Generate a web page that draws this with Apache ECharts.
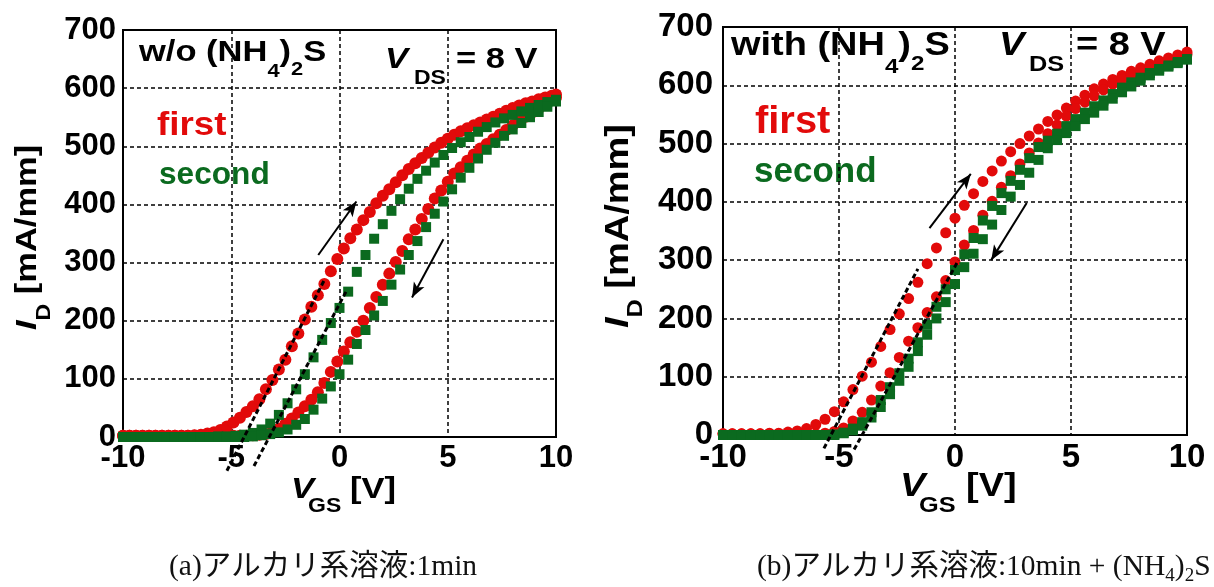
<!DOCTYPE html>
<html>
<head>
<meta charset="utf-8">
<script src="https://cdn.jsdelivr.net/npm/echarts@6/dist/echarts.min.js"></script>
<style>
html,body{margin:0;padding:0;background:#fff;}
#c{width:1214px;height:587px;}
</style>
</head>
<body>
<div id="c"></div>
<script>
// ---------- data ----------
// V_GS sample points (left chart, "first" sweep)
const vgsFine = [-10,-9.7,-9.4,-9.1,-8.8,-8.5,-8.2,-7.9,-7.6,-7.3,-7,-6.7,-6.4,-6.1,-5.8,-5.5,-5.2,-4.9,-4.6,-4.3,-4,-3.7,-3.4,-3.1,-2.8,-2.5,-2.2,-1.9,-1.6,-1.3,-1,-0.7,-0.4,-0.1,0.2,0.5,0.8,1.1,1.4,1.7,2,2.3,2.6,2.9,3.2,3.5,3.8,4.1,4.4,4.7,5,5.3,5.6,5.9,6.2,6.5,6.8,7.1,7.4,7.7,8,8.3,8.6,8.9,9.2,9.5,9.8,10];
// V_GS sample points (other sweeps)
const vgsCoarse = [-10,-9.6,-9.2,-8.8,-8.4,-8,-7.6,-7.2,-6.8,-6.4,-6,-5.6,-5.2,-4.8,-4.4,-4,-3.6,-3.2,-2.8,-2.4,-2,-1.6,-1.2,-0.8,-0.4,0,0.4,0.8,1.2,1.6,2,2.4,2.8,3.2,3.6,4,4.4,4.8,5.2,5.6,6,6.4,6.8,7.2,7.6,8,8.4,8.8,9.2,9.6,10];

// (a) w/o (NH4)2S  -- I_D [mA/mm]
const aFirstUp   = [2,2,2,2,2,2,2,2,2,2,2,3,4,6,8,12,18,25,33,43,53,65,82,98,116,133,156,178,202,224,244,263,285,306,324,342,357,373,387,402,415,426,438,450,461,471,480,489,498,506,513,520,526,531,536,541,546,551,556,561,566,570,574,577,581,584,587,589];
const aFirstDown = [2,2,2,2,2,2,2,2,2,2,2,2,2,2,2,2,2,2,2,2,3,4,5,8,14,23,32,42,53,64,77,93,112,130,147,163,181,200,222,241,262,281,301,320,340,357,375,392,410,424,439,453,464,475,486,496,504,512,520,528,536,544,551,558,565,572,580,584];
const aSecondUp   = [0,0,0,0,0,0,0,0,0,0,0,1,1,2,4,7,13,23,38,58,82,108,137,167,196,222,250,284,313,341,366,389,409,427,444,458,472,485,497,507,516,525,533,541,548,554,560,566,571,576,580];
const aSecondDown = [0,0,0,0,0,0,0,0,0,0,0,0,0,0,0,1,3,5,8,13,21,31,47,66,87,108,133,160,184,209,234,262,288,313,337,361,384,405,426,446,463,479,494,506,518,529,540,550,559,568,577];

// (b) with (NH4)2S
const bFirstUp   = [2,2,2,2,2,3,3,5,7,11,18,27,40,57,78,101,125,152,181,208,234,262,294,321,347,372,394,414,435,453,470,486,500,513,525,538,549,561,573,583,594,602,610,617,624,630,636,642,647,652,657];
const bFirstDown = [2,2,2,2,2,2,2,2,2,2,2,3,6,12,24,39,60,84,107,133,161,184,210,237,265,297,326,351,377,401,425,445,465,484,501,517,532,547,560,571,582,592,602,610,618,625,631,637,643,648,653];
const bSecondUp   = [0,0,0,0,0,0,0,0,0,0,0,0,1,4,11,22,39,60,82,106,131,159,189,220,250,283,310,338,368,393,415,436,455,475,494,505,517,530,542,553,564,574,585,596,605,613,621,628,634,640,645];
const bSecondDown = [0,0,0,0,0,0,0,0,0,0,0,0,0,3,8,16,30,48,70,93,117,144,172,200,228,259,288,311,336,361,386,409,429,450,472,492,506,518,530,542,553,565,577,588,598,608,617,625,632,638,644];

// linear-fit (threshold) dashed lines, endpoints [V_GS, I_D]
const aFitFirst  = [[-5.2,-58],[-0.7,270]];
const aFitSecond = [[-3.95,-50],[0.3,250]];
const bFitFirst  = [[-5.65,-23],[-1.6,285]];
const bFitSecond = [[-4.35,-25],[0.15,300]];
// sweep-direction arrows [from, to]
const aArrows = [[[-0.98,313],[0.78,405]],[[4.8,340],[3.35,240]]];
const bArrows = [[[-1.1,355],[0.68,448]],[[3.09,398],[1.56,300]]];

const xMin = -10, xMax = 10, xStep = 5;
const yMin = 0, yMax = 700, yStep = 100;

// ---------- styling ----------
const RED = '#e20a0a';
const GREEN = '#0b6a1f';
const SANS = "'Liberation Sans', Arial, sans-serif";
const CAPF = "'Liberation Serif', 'Noto Sans CJK JP', serif";
const SX = 1.15;   // horizontal stretch of the lettering in the original figure

const mctx = document.createElement('canvas').getContext('2d');
function fontStr(p){ return (p.it?'italic ':'') + (p.w||'bold') + ' ' + p.s + 'px ' + (p.f||SANS); }
function tw(p){ mctx.font = fontStr(p); return mctx.measureText(p.t).width; }
// horizontal run of text pieces starting at x with baseline y
function run(x, base, parts, fill, sx){
  const k = (sx===undefined) ? SX : sx;
  const els = [];
  let cx = x;
  parts.forEach(p => {
    if (p.x !== undefined) cx = p.x;
    const y = base + (p.dy||0) - 0.35*p.s;
    els.push({type:'text', x: cx, y: y, scaleX:k, silent:true,
      style:{text:p.t, font:fontStr(p), fill: p.c||fill, textAlign:'left', textVerticalAlign:'middle', align:'left', verticalAlign:'middle'}});
    cx += tw(p)*k;
  });
  return els;
}
function rotRun(x, y, parts, fill){
  return {type:'group', x:x, y:y, rotation: Math.PI/2, children: run(0, 0, parts, fill)};
}

function pairs(xs, ys){ return xs.map((v,i)=>[v, ys[i]]); }

function scatter(idx, xs, ys, color, symbol, size){
  return {type:'scatter', xAxisIndex:idx, yAxisIndex:idx, data:pairs(xs, ys), symbol:symbol, symbolSize:size,
    itemStyle:{color:color, opacity:1}, silent:true, z:2};
}
function fit(idx, pts, arrows){
  const s = {type:'line', xAxisIndex:idx, yAxisIndex:idx, data:pts, symbol:'none', clip:false, silent:true, z:5,
    lineStyle:{color:'#000', width:3, type:[5,3]}};
  if (arrows){
    s.markLine = {silent:true, symbol:['none','arrow'], symbolSize:[9,15], precision:3,
      label:{show:false}, lineStyle:{color:'#000', width:2, type:'solid'},
      data: arrows.map(a => [{coord:a[0]},{coord:a[1]}])};
  }
  return s;
}

function xAxis(idx, fs){
  return {gridIndex:idx, type:'value', min:xMin, max:xMax, interval:xStep,
    axisLine:{onZero:false, lineStyle:{color:'#000', width:2}}, axisTick:{show:false},
    axisLabel:{color:'#000', fontSize:fs, fontWeight:'bold', fontFamily:SANS, margin:6},
    splitLine:{show:true, lineStyle:{color:'#000', width:1.5, type:[4,3]}}};
}
function yAxis(idx, fs, margin){
  return {gridIndex:idx, type:'value', min:yMin, max:yMax, interval:yStep,
    axisLine:{onZero:false, lineStyle:{color:'#000', width:2}}, axisTick:{show:false},
    axisLabel:{color:'#000', fontSize:fs, fontWeight:'bold', fontFamily:SANS, margin:margin},
    splitLine:{show:true, lineStyle:{color:'#000', width:1.5, type:[4,3]}}};
}

const graphics = [].concat(
  // left chart annotations
  run(139, 63, [{t:'w/o (NH',s:30},{t:'4',s:19,dy:15},{t:')',s:30},{t:'2',s:19,dy:13},{t:'S',s:30}], '#000'),
  run(385, 70, [{t:'V',s:30,it:true},{t:'DS',s:20,dy:15,x:414},{t:'= 8 V',s:30,x:456}], '#000'),
  run(157, 138, [{t:'first',s:34}], RED, 1.08),
  run(159, 186, [{t:'second',s:31}], GREEN, 1.02),
  run(291, 500, [{t:'V',s:30,it:true},{t:'GS',s:20,dy:13,x:308},{t:'[V]',s:30,x:350}], '#000'),
  [rotRun(38, 330, [{t:'I',s:30,it:true},{t:'D',s:20,dy:13},{t:' [mA/mm]',s:30}], '#000')],
  // right chart annotations
  run(731, 57, [{t:'with (NH',s:33},{t:'4',s:21,dy:18},{t:')',s:33},{t:'2',s:21,dy:15},{t:'S',s:33}], '#000'),
  run(999, 57, [{t:'V',s:33,it:true},{t:'DS',s:22,dy:16,x:1029},{t:'= 8 V',s:33,x:1076}], '#000'),
  run(755, 136, [{t:'first',s:38}], RED, 1.05),
  run(754, 185, [{t:'second',s:35}], GREEN, 1.0),
  run(900, 498, [{t:'V',s:33,it:true},{t:'GS',s:22,dy:16,x:919},{t:'[V]',s:33,x:966}], '#000'),
  [rotRun(630, 328, [{t:'I',s:33,it:true},{t:'D',s:22,dy:14},{t:' [mA/mm]',s:33}], '#000')],
  // captions
  run(169, 578, [{t:'(a)アルカリ系溶液:1min',s:29.5,w:'normal',f:CAPF}], '#111', 1),
  run(757, 578, [{t:'(b)アルカリ系溶液:10min + (NH',s:29.5,w:'normal',f:CAPF},{t:'4',s:19,w:'normal',f:CAPF,dy:5},{t:')',s:29.5,w:'normal',f:CAPF},{t:'2',s:19,w:'normal',f:CAPF,dy:5},{t:'S',s:29.5,w:'normal',f:CAPF}], '#111', 1)
);

const option = {
  animation:false,
  backgroundColor:'#fff',
  grid:[
    {left:123, top:30, width:433, height:407, show:true, borderColor:'#000', borderWidth:2, backgroundColor:'transparent'},
    {left:723, top:27, width:464, height:408, show:true, borderColor:'#000', borderWidth:2, backgroundColor:'transparent'}
  ],
  xAxis:[xAxis(0,31), xAxis(1,33)],
  yAxis:[yAxis(0,31,7), yAxis(1,33,10)],
  series:[
    scatter(0, vgsFine, aFirstUp, RED, 'circle', 12),
    scatter(0, vgsFine, aFirstDown, RED, 'circle', 12),
    scatter(0, vgsCoarse, aSecondUp, GREEN, 'rect', 10),
    scatter(0, vgsCoarse, aSecondDown, GREEN, 'rect', 10),
    fit(0, aFitFirst, aArrows),
    fit(0, aFitSecond),
    scatter(1, vgsCoarse, bFirstUp, RED, 'circle', 11),
    scatter(1, vgsCoarse, bFirstDown, RED, 'circle', 11),
    scatter(1, vgsCoarse, bSecondUp, GREEN, 'rect', 10),
    scatter(1, vgsCoarse, bSecondDown, GREEN, 'rect', 10),
    fit(1, bFitFirst, bArrows),
    fit(1, bFitSecond)
  ],
  graphic: graphics
};

const chart = echarts.init(document.getElementById('c'), null, {renderer:'canvas'});
chart.setOption(option);
</script>
</body>
</html>
